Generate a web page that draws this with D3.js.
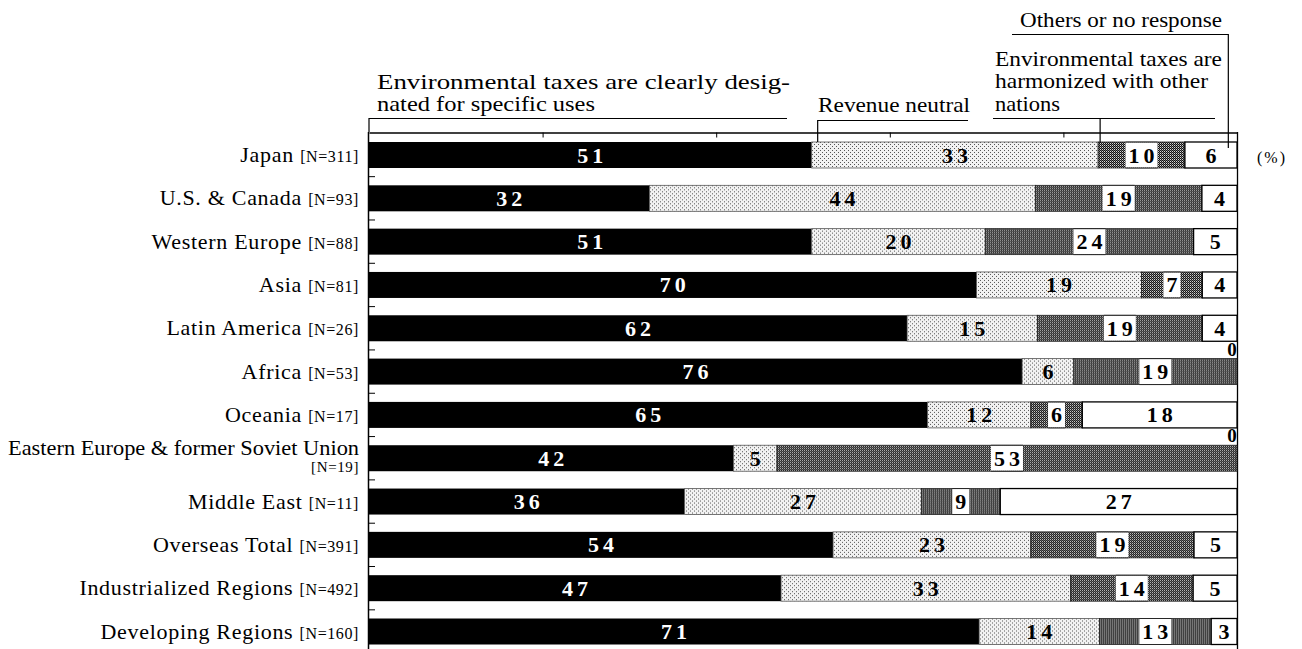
<!DOCTYPE html>
<html>
<head>
<meta charset="utf-8">
<script src="https://cdn.jsdelivr.net/npm/d3@7"></script>
<style>
  html, body { margin: 0; padding: 0; background: #fff; }
  svg { display: block; }
  text { font-family: "Liberation Serif", "Times New Roman", serif; }
</style>
</head>
<body>
<svg id="chart" width="1302" height="649"></svg>
<script>
// ---------------- data ----------------
const categories = ["Japan", "U.S. & Canada", "Western Europe", "Asia", "Latin America", "Africa",
  "Oceania", "Eastern Europe & former Soviet Union", "Middle East", "Overseas Total",
  "Industrialized Regions", "Developing Regions"];
const sampleSizes = ["[N=311]", "[N=93]", "[N=88]", "[N=81]", "[N=26]", "[N=53]",
  "[N=17]", "[N=19]", "[N=11]", "[N=391]", "[N=492]", "[N=160]"];
const designated     = [51, 32, 51, 70, 62, 76, 65, 42, 36, 54, 47, 71];
const revenueNeutral = [33, 44, 20, 19, 15, 6, 12, 5, 27, 23, 33, 14];
const harmonized     = [10, 19, 24, 7, 19, 19, 6, 53, 9, 19, 14, 13];
const othersNoResp   = [6, 4, 5, 4, 4, 0, 18, 0, 27, 5, 5, 3];
const seriesKeys = ["designated", "revenueNeutral", "harmonized", "others"];
const labelDesignated = ["Environmental taxes are clearly desig-", "nated for specific uses"];
const labelRevenue = ["Revenue neutral"];
const labelHarmonized = ["Environmental taxes are", "harmonized with other", "nations"];
const labelOthers = ["Others or no response"];
const unitLabel = "(%)";
const topTicks = [20, 40, 60, 80];

// ---------------- build ----------------
const rows = categories.map((c, i) => {
  const vals = [designated[i], revenueNeutral[i], harmonized[i], othersNoResp[i]];
  const total = d3.sum(vals);
  let cum = 0;
  const segs = vals.map((v, k) => {
    const s = { key: seriesKeys[k], value: v, x0: cum / total * 100 };
    cum += v;
    s.x1 = cum / total * 100;
    return s;
  });
  return { cat: c, n: sampleSizes[i], segs };
});

const svg = d3.select("#chart");
const x = d3.scaleLinear().domain([0, 100]).range([369, 1237]);
const y = d3.scalePoint().domain(categories).range([155, 631.5]);
const barH = 26;
const step = y.step();

// patterns
const defs = svg.append("defs");
const pl = defs.append("pattern").attr("id", "light").attr("patternUnits", "userSpaceOnUse")
  .attr("width", 4).attr("height", 4);
pl.append("rect").attr("width", 4).attr("height", 4).attr("fill", "#f2f2f2");
pl.append("rect").attr("x", 0).attr("y", 0).attr("width", 1).attr("height", 1).attr("fill", "#555");
pl.append("rect").attr("x", 2).attr("y", 2).attr("width", 1).attr("height", 1).attr("fill", "#555");

const pd = defs.append("pattern").attr("id", "dark").attr("patternUnits", "userSpaceOnUse")
  .attr("width", 2).attr("height", 2);
pd.append("rect").attr("width", 2).attr("height", 2).attr("fill", "#111");
pd.append("rect").attr("x", 1).attr("y", 0).attr("width", 1).attr("height", 1).attr("fill", "#707070");
pd.append("rect").attr("x", 0).attr("y", 1).attr("width", 1).attr("height", 1).attr("fill", "#d8d8d8");

const fills = { designated: "#000", revenueNeutral: "url(#light)", harmonized: "url(#dark)", others: "#fff" };
const strokes = { designated: "none", revenueNeutral: "#555", harmonized: "#222", others: "#000" };

// frame: top axis line with ticks
const topAxis = d3.axisBottom(x).tickValues(topTicks).tickSize(5).tickSizeOuter(0).tickFormat("");
const ta = svg.append("g").attr("transform", "translate(0,132.5)").call(topAxis);
ta.select(".domain").attr("stroke", "#000").attr("stroke-width", 1.3);
ta.selectAll(".tick line").attr("stroke", "#000").attr("stroke-width", 1);

// left axis & right frame
svg.append("line").attr("x1", 368.5).attr("x2", 368.5).attr("y1", 132).attr("y2", 649)
  .attr("stroke", "#000").attr("stroke-width", 1.5);
svg.append("line").attr("x1", x(100) + 0.5).attr("x2", x(100) + 0.5).attr("y1", 132).attr("y2", 649)
  .attr("stroke", "#000").attr("stroke-width", 1.3);
// left ticks between rows
const tickYs = categories.slice(0, -1).map(c => y(c) + step / 2);
svg.append("g").selectAll("line").data(tickYs).join("line")
  .attr("x1", 368).attr("x2", 375).attr("y1", d => d).attr("y2", d => d)
  .attr("stroke", "#000").attr("stroke-width", 1);

// bars
const rowG = svg.append("g").selectAll("g").data(rows).join("g")
  .attr("transform", d => `translate(0,${y(d.cat) - barH / 2})`);

rowG.selectAll("rect.seg").data(d => d.segs.filter(s => s.value > 0)).join("rect")
  .attr("class", "seg")
  .attr("x", s => x(s.x0)).attr("y", 0)
  .attr("width", s => x(s.x1) - x(s.x0)).attr("height", barH)
  .attr("fill", s => fills[s.key])
  .attr("stroke", s => strokes[s.key])
  .attr("stroke-width", s => s.key === "others" ? 1.3 : 0.8);

// value labels
const fontVal = 22, ls = 4;
rowG.each(function (d) {
  const g = d3.select(this);
  d.segs.forEach(s => {
    if (s.value === 0) {
      if (s.key === "others") {
        g.append("text").attr("x", x(100) - 5).attr("y", -3)
          .attr("text-anchor", "middle").attr("font-weight", "bold").attr("font-size", 19)
          .attr("fill", "#000").text("0");
      }
      return;
    }
    const cx = (x(s.x0) + x(s.x1)) / 2;
    const t = g.append("text").attr("x", cx + ls / 2).attr("y", barH / 2 + 7.5)
      .attr("text-anchor", "middle").attr("font-weight", "bold").attr("font-size", fontVal)
      .attr("letter-spacing", ls + "px")
      .attr("fill", s.key === "designated" ? "#fff" : "#000")
      .text(s.value);
    if (s.key === "harmonized") {
      const w = t.node().getComputedTextLength() - ls + 6;
      g.insert("rect", "text").attr("x", cx - w / 2).attr("y", 0.5).attr("width", w).attr("height", barH - 1)
        .attr("fill", "#fff");
      g.insert("line", "text").attr("x1", cx - w / 2).attr("x2", cx + w / 2).attr("y1", 0).attr("y2", 0)
        .attr("stroke", "#222").attr("stroke-width", 0.8);
      g.insert("line", "text").attr("x1", cx - w / 2).attr("x2", cx + w / 2).attr("y1", barH).attr("y2", barH)
        .attr("stroke", "#222").attr("stroke-width", 0.8);
    }
  });
});

// category labels
const labG = svg.append("g");
const labRight = 359;
rows.forEach((r, i) => {
  const cy = y(r.cat);
  if (r.cat.length > 30) {
    labG.append("text").attr("x", 8).attr("y", cy - 3)
      .attr("font-size", 21).attr("textLength", labRight - 8).attr("lengthAdjust", "spacingAndGlyphs")
      .text(r.cat);
    labG.append("text").attr("x", labRight).attr("y", cy + 14).attr("text-anchor", "end")
      .attr("font-size", 15).attr("letter-spacing", "0.6px").text(r.n);
  } else {
    const t = labG.append("text").attr("x", labRight).attr("y", cy + 7).attr("text-anchor", "end");
    t.append("tspan").attr("font-size", 22).attr("letter-spacing", "0.7px").text(r.cat + " ");
    t.append("tspan").attr("font-size", 16).attr("letter-spacing", "0.6px").text(r.n);
  }
});

// annotations
const ann = svg.append("g").attr("font-size", 21).attr("fill", "#000");
function annText(lines, x0, baselines, widths) {
  lines.forEach((l, i) => {
    ann.append("text").attr("x", x0).attr("y", baselines[i])
      .attr("textLength", widths[i]).attr("lengthAdjust", "spacingAndGlyphs").text(l);
  });
}
annText(labelDesignated, 377, [89, 111], [413, 218]);
annText(labelRevenue, 818, [112], [152]);
annText(labelHarmonized, 995, [66, 88, 111], [227, 213, 65]);
annText(labelOthers, 1020, [27], [202]);

const jp = rows[0].segs;
const lg = svg.append("g").attr("fill", "none").attr("stroke", "#000").attr("stroke-width", 1.2);
const line = d3.line();
// designated bracket
lg.append("path").attr("d", line([[369, 132], [369, 118.5], [787, 118.5]]));
// revenue neutral
const xr = x(jp[0].x1) + 6;
lg.append("path").attr("d", line([[xr, 142], [xr, 120.5], [968, 120.5]]));
// harmonized
const xh = x(jp[1].x1) + 2;
lg.append("path").attr("d", line([[993, 118.5], [1215, 118.5]]));
lg.append("path").attr("d", line([[xh, 118.5], [xh, 143]]));
// others
const xo = x(99);
lg.append("path").attr("d", line([[1012, 34.5], [xo, 34.5], [xo, 148]]));

// unit
svg.append("text").attr("x", 1272).attr("y", 163).attr("text-anchor", "middle")
  .attr("font-size", 16).attr("letter-spacing", "2px").text(unitLabel);
</script>
</body>
</html>
